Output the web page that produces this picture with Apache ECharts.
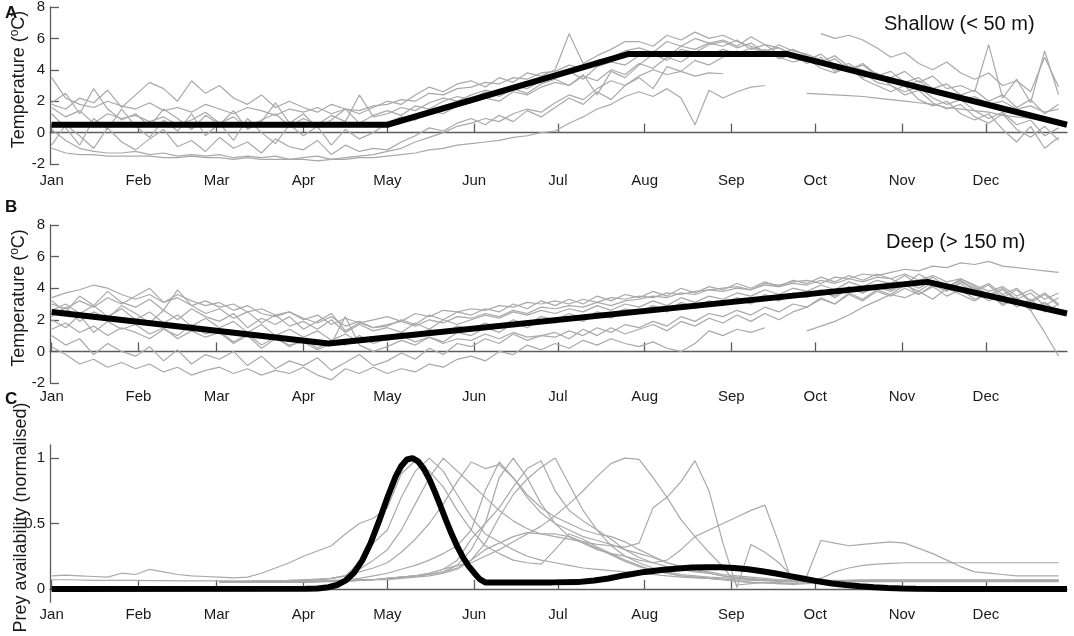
<!DOCTYPE html>
<html>
<head>
<meta charset="utf-8">
<script src="https://cdn.jsdelivr.net/npm/echarts@6/dist/echarts.min.js"></script>
<style>html,body{margin:0;padding:0;background:#fff}#c{width:1074px;height:636px}</style>
</head>
<body>
<div id="c"></div>
<script>
// ---------- axis labels ----------
const monthLabels = ['Jan','Feb','Mar','Apr','May','Jun','Jul','Aug','Sep','Oct','Nov','Dec'];
const monthStartDays = [1,32,60,91,121,152,182,213,244,274,305,335];
const tempTicks = [-2,0,2,4,6,8];
const preyTicks = [0,0.5,1];

// sample days (day of year) shared by grey series
const sampleDays = [1,6,11,16,21,26,31,36,41,46,51,56,61,66,71,76,81,86,91,96,101,106,111,116,121,126,131,136,141,146,151,156,161,166,171,176,181,186,191,196,201,206,211,216,221,226,231,236,241,246,251,256,261,266,271,276,281,286,291,296,301,306,311,316,321,326,331,336,341,346,351,356,361];

// ---------- Panel A: shallow (< 50 m) temperature records ----------
const shallow1 = [3.5,2.2,1.8,1.6,2.0,1.7, 1.5,1.9,1.4,1.6,1.3,1.8, 1.5,1.2,1.6,1.4,1.1,1.5, 1.3,1.6,1.2,1.5,1.4,1.7, 1.8,2.1,2.0,2.5,2.4,2.8, 2.9,3.2,3.1,3.5,3.4,3.8, 3.9,4.3,4.1,4.6,4.8,5.2, 5.4,5.1,5.8,5.5,6.0,5.7, 5.9,5.5,6.1,5.6,5.4,5.0, 4.8,4.5,4.9,4.2,4.0,3.6, 3.4,3.0,3.3,2.7,2.5,2.1, 2.3,1.8,2.0,1.5,1.7,1.3,1.5];
const shallow2 = [-1.0,-1.3,-1.4,-1.4,-1.5,-1.5, -1.5,-1.5,-1.6,-1.6,-1.5,-1.6, -1.6,-1.7,-1.6,-1.7,-1.7,-1.7, -1.7,-1.8,-1.7,-1.7,-1.6,-1.6, -1.5,-1.4,-1.3,-1.1,-1.0,-0.8, -0.7,-0.6,-0.5,-0.3,-0.2,0.0, 0.1,0.6,1.0,1.5,1.8,2.3, 2.6,2.3,2.8,2.2,0.5,2.7, 2.2,2.6,2.9,3.0, null,null,null,null,null,null,null,null,null,null,null,null,null,null,null,null,null,null,null,null,null];
const shallow3 = [0.2,-0.5,-1.0,-1.2,-1.3,-1.3, -1.2,-1.4,-1.3,-1.5,-1.4,-1.5, -1.4,-1.6,-1.5,-1.6,-1.5,-1.7, -1.6,-1.5,-1.7,-1.6,-1.5,-1.4, -1.2,-1.0,-0.6,-0.3,0.0,0.4, 0.6,0.9,0.7,1.2,1.5,1.3, 1.9,2.4,2.1,2.8,3.3,3.0, 3.6,4.0,3.7,3.9,3.6,3.8, 3.75, null,null,null,null,null,null,null,null,null,null,null,null,null,null,null,null,null,null,null,null,null,null,null,null];
const shallow4 = [1.2,0.3,-0.8,0.9,0.2,1.5, 0.4,-0.3,0.8,0.1,1.2,-0.2, 0.6,-0.5,0.9,0.0,-0.7,0.5, -0.2,0.4,-0.8,0.2,-0.4,0.0, 0.6,1.0,0.8,1.4,1.2,1.7, 1.9,2.2,2.0,2.6,2.4,2.9, 3.2,3.0,3.6,3.3,4.0,3.7, 4.4,4.1,4.8,4.5,5.1,4.9, 5.3,5.0,5.4,5.1,5.6,5.2, 5.0,4.6,4.1,4.4,3.8,3.2, 3.0,2.4,2.7,1.9,1.5,1.8, 1.0,0.6,1.2,0.2,-0.3,0.4,-0.5];
const shallow5 = [1.8,1.5,2.2,1.9,2.7,1.6, 2.4,3.2,2.8,2.0,3.3,2.5, 3.0,2.2,1.8,2.4,1.6,2.0, 1.6,1.3,1.8,1.5,1.2,1.6, 2.0,1.8,2.4,2.9,2.6,3.1, 3.3,2.9,3.5,3.2,3.8,3.6, 4.0,6.3,4.4,4.9,5.3,5.8, 5.8,5.5,6.2,5.9,6.4,6.0, 6.2,5.8,5.5,5.2,5.4,4.9, 4.6,5.0,4.3,4.0,4.4,3.7, 3.5,3.9,3.2,3.6,2.8,3.0, 2.6,5.6,2.2,3.4,1.9,5.2,2.4];
const shallow6 = [1.6,1.0,1.4,0.6,1.2,0.9, 1.1,0.7,1.0,0.5,0.8,1.3, 0.6,1.0,0.3,0.8,1.2,0.4, 0.9,0.5,1.1,0.7,2.4,1.0, 1.2,1.6,1.4,1.9,2.2,2.0, 2.4,2.7,2.5,3.0,2.8,3.3, 3.5,3.9,3.4,4.2,4.5,4.3, 4.9,5.2,4.8,5.5,5.3,5.7, 5.5,5.9,5.3,5.6,5.0,5.3, 4.9,4.4,4.7,4.0,4.3,3.6, 3.9,3.2,3.5,2.8,3.1,2.4, 2.7,2.0,2.4,1.6,2.1,1.2,1.8];
const shallow7 = [-0.8,0.5,-0.2,-1.0,0.3,-0.6, -1.1,-0.4,0.2,-0.9,-0.5,-1.2, -0.3,-1.0,-0.6,-1.3,-0.4,-0.9, -1.1,-0.5,-1.4,-0.8,-1.2,-1.0, -1.1,-0.6,-0.2,0.3,0.1,0.6, 0.9,0.5,1.1,0.7,1.4,1.0, 1.6,2.2,1.8,2.6,2.1,3.0, 3.5,2.8,4.2,3.9,4.6,4.3, 4.8,5.2,4.9,5.3,4.7,5.0, 4.4,4.8,3.9,4.2,3.5,3.8, 3.0,2.6,2.9,2.2,1.8,2.1, 1.4,0.9,1.3,0.5,0.8,-0.2,0.3];
const shallow8 = [1.9,2.5,1.2,2.8,1.5,0.8, 1.2,0.4,1.5,0.9,0.2,1.1, 0.5,1.4,0.2,0.7,1.9,0.6, 1.2,0.3,0.8,1.5,0.6,1.1, 1.4,1.1,1.7,1.5,2.0,2.3, 2.1,2.6,2.3,2.8,2.5,3.1, 3.4,3.0,3.7,2.4,3.9,3.5, 4.3,5.0,4.6,5.3,5.1,5.6, 5.8,5.4,5.7,5.1,4.8,4.5, 4.7,4.1,3.8,4.2,3.4,3.0, 2.6,3.0,2.1,1.7,2.0,1.2, 0.8,1.2,0.2,-0.6,0.4,-1.0,-0.3];
const shallow9 = [null,null,null,null,null,null,null,null,null,null,null,null,null,null,null,null,null,null,null,null,null,null,null,null,null,null,null,null,null,null,null,null,null,null,null,null,null,null,null,null,null,null,null,null,null,null,null,null,null,null,null,null,null,null, 2.5,2.45,2.4,2.35,2.3,2.2,2.1,2.0,1.9,1.8,1.6,1.5,1.4,1.3,1.1,1.0,0.9,0.8,0.7];
const shallow10 = [null,null,null,null,null,null,null,null,null,null,null,null,null,null,null,null,null,null,null,null,null,null,null,null,null,null,null,null,null,null,null,null,null,null,null,null,null,null,null,null,null,null,null,null,null,null,null,null,null,null,null,null,null,null,null, 6.3,6.0,6.2,5.9,5.4,4.8,5.1,4.4,4.0,4.5,3.8,3.4,3.8,3.0,3.3,2.6,4.8,2.9];
const shallowModelDays = [1,121,207,264,364];
const shallowModel = [0.5,0.5,5.0,5.0,0.5];

// ---------- Panel B: deep (> 150 m) temperature records ----------
const deep1 = [3.4,3.7,3.9,4.2,4.0,3.6, 3.3,3.6,3.1,3.4,2.9,3.2, 2.8,3.0,2.5,2.7,2.3,2.5, 2.1,1.8,2.2,1.6,1.9,1.5, 1.7,1.9,1.6,2.0,1.8,2.2, 2.1,2.4,2.2,2.6,2.4,2.8, 2.7,2.9,2.8,3.1,2.9,3.2, 3.3,3.5,3.4,3.7,3.6,3.9, 3.8,4.0,3.9,4.2,4.1,4.3, 4.2,4.5,4.3,4.6,4.4,4.7, 4.6,4.9,4.5,4.8,4.4,4.6, 4.2,3.8,4.1,3.5,3.9,3.3,3.7];
const deep2 = [3.0,2.7,3.2,2.8,3.4,3.0, 3.5,4.0,3.1,3.6,3.2,2.9, 3.1,2.6,2.9,2.4,2.2,2.5, 2.0,2.3,1.7,2.1,1.8,2.0, 2.2,1.9,2.4,2.2,2.6,2.5, 2.7,2.6,2.9,2.8,3.1,3.0, 3.2,3.0,3.3,3.1,3.4,3.3, 3.5,3.4,3.7,3.6,3.8,3.9, 4.0,4.1,3.9,4.3,4.2,4.4, 4.5,4.3,4.7,4.6,4.9,4.8, 5.0,5.2,5.1,5.4,5.3,5.6, 5.5,5.7,5.4,5.3,5.2,5.1,5.0];
const deep3 = [2.2,2.8,1.9,2.5,2.1,2.9, 2.4,1.8,2.6,2.0,2.7,2.2, 1.9,2.4,1.5,2.1,1.7,2.2, 1.4,1.9,2.4,1.3,1.8,1.5, 1.6,2.0,1.7,2.3,2.0,2.5, 2.3,2.7,2.5,3.0,2.7,3.2, 2.9,3.3,3.0,3.5,3.2,3.6, 3.4,3.8,3.5,4.0,3.7,4.1, 3.9,4.3,4.0,4.4,4.1,4.5, 4.3,4.7,4.4,4.8,4.5,4.9, 4.6,4.2,4.9,4.4,4.0,4.5, 3.8,4.2,3.4,3.9,3.1,3.6,2.9];
const deep4 = [1.4,1.8,1.2,1.6,1.0,1.5, 1.2,0.8,1.4,1.0,1.7,1.1, 1.3,0.6,1.1,0.4,0.9,0.3, 0.8,0.2,0.7,0.4,1.0,0.5, 0.8,1.2,0.9,1.4,1.1,1.6, 1.4,1.8,1.5,2.0,1.7,2.2, 2.0,2.4,2.1,2.5,2.3,2.7, 2.5,2.9,2.6,3.1,2.8,3.2, 3.0,3.4,3.1,3.6,3.3,3.7, 3.5,3.9,3.4,4.0,3.7,4.1, 3.8,4.3,3.6,4.1,3.5,3.9, 3.3,3.7,3.0,3.4,2.6,3.1,2.4];
const deep5 = [0.3,-0.2,-0.8,-0.5,-1.0,-0.7, -1.1,-0.8,-1.3,-1.0,-1.5,-1.2, -1.0,-1.4,-1.1,-1.5,-1.2,-1.4, -1.0,-1.5,-1.8,-1.1,-1.4,-1.0, -1.4,-1.1,-1.3,-0.8,-1.0,-0.5, -0.3,-0.6,0.0,-0.2,0.4,0.1, 0.5,0.2,0.7,0.4,0.8,0.5, 0.3,0.6,0.2,0.0,0.5,1.3, 1.0,1.4,1.2,1.5, null,null,null,null,null,null,null,null,null,null,null,null,null,null,null,null,null,null,null,null,null];
const deep6 = [1.0,0.4,0.8,-0.2,0.5,0.0, -0.3,0.3,-0.6,0.1,-0.8,-0.2, -0.5,0.0,-0.9,-0.3,-1.1,-0.6, -0.9,-0.4,-1.2,-0.7,-0.2,-0.9, -0.6,-0.1,-0.5,0.2,-0.2,0.5, 0.3,0.8,0.5,1.1,0.7,1.0, 0.9,1.3,1.0,1.5,1.2,1.7, 1.5,1.9,1.6,2.2,1.9,2.4, 2.2,2.6,2.3,2.8,2.5,3.0, 2.8,3.3,3.0,3.6,3.2,3.8, 3.5,4.0,3.6,4.2,3.8,4.4, 4.0,3.5,3.9,3.2,2.6,1.2,-0.3];
const deep7 = [null,null,null,null,null,null,null,null,null,null,null,null,null,null,null,null,null,null,null,null,null,null,null,null,null,null,null,null,null,null,null,null,null,null,null,null,null,null,null,null,null,null,null,null,null,null,null,null,null,null,null,null,null,null, 1.3,1.6,1.9,2.3,2.8,3.2,3.6,3.4,3.8,3.3,4.0,3.6,3.2,3.7,2.9,3.4,2.7,3.1,2.5];
const deep8 = [2.6,3.0,2.4,2.9,2.2,2.7, 2.0,2.5,1.8,2.3,1.6,2.1, 1.5,1.9,1.2,1.7,1.0,1.4, 0.9,1.3,0.7,1.1,0.6,0.9, 0.7,1.0,0.6,0.9,0.5,0.8, 0.7,1.1,0.8,1.2,0.9,1.0, 1.2,0.8,1.4,1.0,1.5,1.1, 1.4,1.7,1.3,1.9,1.6,2.1, 1.8,2.3,1.9,2.4,2.0,2.5, 2.8,3.4,3.0,3.7,3.3,3.9, 3.6,4.2,3.8,4.4,4.0,4.6, 4.1,3.6,4.0,3.3,3.7,2.9,3.4];
const deep9 = [3.2,2.5,3.5,2.9,3.8,3.1, 2.8,3.3,2.6,3.9,2.9,2.4, 2.7,2.1,2.5,1.8,2.3,1.6, 1.9,1.4,2.0,1.2,1.7,1.3, 1.5,1.2,1.8,1.4,2.0,1.7, 2.0,2.3,2.1,2.5,2.3,2.6, 2.4,2.7,2.5,2.9,2.6,3.0, 2.8,3.2,2.9,3.4,3.1,3.5, 3.3,3.7,3.5,3.9,3.6,4.0, 3.8,4.2,3.9,4.4,4.1,4.5, 4.3,4.8,4.2,4.7,4.1,4.5, 3.9,4.3,3.6,4.0,3.2,3.7,3.0];
const deep10 = [2.0,1.5,2.3,1.2,1.9,1.4, 1.7,1.1,1.5,0.8,1.3,0.9, 1.2,0.5,1.0,0.2,0.8,0.4, 0.6,0.1,0.5,2.2,0.4,0.0, 0.3,0.7,0.4,0.9,0.6,1.2, 1.0,1.5,1.2,1.8,1.5,2.0, 1.8,2.2,1.9,2.4,2.1,2.6, 2.4,2.8,2.5,3.0,2.7,3.1, 2.9,3.3,3.0,3.5,3.2,3.6, 3.4,3.8,3.5,4.1,3.7,4.2, 3.9,4.4,4.0,4.5,3.9,4.3, 3.7,3.2,3.6,2.8,3.3,2.5,3.0];
const deepModelDays = [1,100,314,364];
const deepModel = [2.5,0.5,4.4,2.4];

// ---------- Panel C: prey availability (normalised) ----------
const prey1 = [0.1,0.105,0.1,0.095,0.09,0.12, 0.11,0.15,0.13,0.11,0.1,0.095, 0.09,0.085,0.09,0.12,0.16,0.2, 0.25,0.29,0.33,0.42,0.5,0.54, 0.62,0.88,0.98,0.9,0.78,0.6, 0.45,0.33,0.27,0.22,0.2,0.19, 0.3,0.42,0.38,0.32,0.27,0.22, 0.18,0.14,0.12,0.1,0.09,0.08, 0.07,0.06,0.05,0.05,0.04,0.04, 0.05,0.08,0.13,0.16,0.18,0.19, 0.195,0.2,0.2,0.2,0.2,0.2, 0.2,0.2,0.2,0.2,0.2,0.2,0.2];
const prey2 = [0.07,0.07,0.068,0.066,0.065,0.065, 0.065,0.064,0.063,0.062,0.062,0.062, 0.062,0.062,0.062,0.063,0.064,0.065, 0.067,0.07,0.08,0.1,0.2,0.35, 0.45,0.7,0.9,1.0,0.9,0.72, 0.55,0.42,0.36,0.3,0.25,0.22, 0.2,0.18,0.16,0.15,0.14,0.13, 0.12,0.11,0.1,0.09,0.085,0.08, 0.075,0.07,0.065,0.065,0.06,0.06, 0.06,0.06,0.06,0.06,0.06,0.06, 0.06,0.06,0.06,0.06,0.06,0.06, 0.06,0.06,0.06,0.06,0.06,0.06,0.06];
const prey3 = [null,null,null,null,null,null,null,null,null,null,null,null, 0.05,0.05,0.055,0.06,0.06,0.065, 0.07,0.075,0.08,0.1,0.15,0.22, 0.3,0.45,0.65,0.85,1.0,0.9, 0.8,0.7,0.6,0.52,0.46,0.42, 0.42,0.4,0.36,0.31,0.26,0.21, 0.17,0.14,0.12,0.1,0.09,0.08, 0.07,0.06,0.05,0.045,0.04,0.035, 0.04,0.05,0.06,0.065,0.07,0.07, 0.07,0.07,0.07,0.07,0.07,0.07, 0.07,0.07,0.07,0.07,0.07,0.07,0.07];
const prey4 = [null,null,null,null,null,null,null,null,null,null,null,null, 0.05,0.05,0.05,0.055,0.06,0.06, 0.065,0.07,0.08,0.1,0.13,0.16, 0.2,0.28,0.38,0.5,0.65,0.82, 0.97,0.92,0.95,0.85,0.72,0.62, 0.55,0.5,0.45,0.42,0.4,0.36, 0.3,0.25,0.2,0.17,0.14,0.12, 0.1,0.09,0.08,0.07,0.06,0.055, 0.055,0.055,0.055,0.055,0.055,0.055, 0.055,0.055,0.055,0.055,0.055,0.055, 0.055,0.055,0.055,0.055,0.055,0.055,0.055];
const prey5 = [null,null,null,null,null,null,null,null,null,null,null,null, 0.05,0.05,0.05,0.05,0.055,0.055, 0.06,0.06,0.065,0.07,0.08,0.1, 0.12,0.15,0.18,0.22,0.27,0.33, 0.45,0.75,0.97,0.85,0.7,0.58, 0.5,0.45,0.4,0.37,0.34,0.3, 0.27,0.24,0.2,0.17,0.15,0.13, 0.11,0.1,0.09,0.08,0.07,0.07, 0.065,0.065,0.065,0.065,0.065,0.065, 0.065,0.065,0.065,0.065,0.065,0.065, 0.065,0.065,0.065,0.065,0.065,0.065,0.065];
const prey6 = [null,null,null,null,null,null,null,null,null,null,null,null, 0.05,0.05,0.05,0.05,0.05,0.055, 0.055,0.06,0.06,0.065,0.07,0.07, 0.08,0.09,0.1,0.12,0.15,0.22, 0.38,0.5,0.62,0.78,0.92,0.98, 0.75,0.6,0.52,0.45,0.38,0.3, 0.24,0.2,0.17,0.15,0.13,0.12, 0.1,0.08,0.07,0.065,0.06,0.06, 0.06,0.06,0.06,0.06,0.06,0.06, 0.06,0.06,0.06,0.06,0.06,0.06, 0.06,0.06,0.06,0.06,0.06,0.06,0.06];
const prey7 = [null,null,null,null,null,null,null,null,null,null,null,null, 0.05,0.05,0.05,0.05,0.05,0.05, 0.055,0.055,0.06,0.06,0.065,0.07, 0.08,0.09,0.1,0.11,0.13,0.16, 0.22,0.35,0.55,0.72,0.84,0.93, 1.0,0.8,0.6,0.45,0.33,0.25, 0.2,0.16,0.13,0.11,0.1,0.09, 0.085,0.08,0.075,0.07,0.065,0.06, 0.06,0.06,0.06,0.06,0.06,0.06, 0.06,0.06,0.06,0.06,0.06,0.06, 0.06,0.06,0.06,0.06,0.06,0.06,0.06];
const prey8 = [null,null,null,null,null,null,null,null,null,null,null,null, 0.05,0.05,0.05,0.05,0.05,0.05, 0.05,0.055,0.055,0.06,0.065,0.07, 0.08,0.09,0.1,0.12,0.15,0.18, 0.2,0.25,0.3,0.36,0.42,0.48, 0.56,0.65,0.75,0.86,0.96,1.0, 0.99,0.85,0.7,0.53,0.4,0.28, 0.17,0.03,0.04,0.05,0.05,0.055, 0.06,0.06,0.06,0.06,0.06,0.06, 0.06,0.06,0.06,0.06,0.06,0.06, 0.06,0.06,0.06,0.06,0.06,0.06,0.06];
const prey9 = [null,null,null,null,null,null,null,null,null,null,null,null, 0.05,0.05,0.05,0.05,0.05,0.05, 0.05,0.055,0.06,0.06,0.065,0.07, 0.07,0.08,0.09,0.1,0.12,0.15, 0.22,0.3,0.35,0.4,0.43,0.42, 0.4,0.38,0.36,0.34,0.33,0.32, 0.35,0.62,0.7,0.82,0.98,0.75, 0.35,0.01,0.34,0.28,0.2,0.09, 0.06,0.06,0.06,0.06,0.06,0.06, 0.06,0.06,0.06,0.06,0.06,0.06, 0.06,0.06,0.06,0.06,0.06,0.06,0.06];
const prey10 = [null,null,null,null,null,null,null,null,null,null,null,null, 0.05,0.05,0.05,0.05,0.05,0.05, 0.055,0.055,0.06,0.065,0.07,0.07, 0.08,0.09,0.1,0.11,0.13,0.18, 0.3,0.5,0.85,1.0,0.85,0.65, 0.5,0.4,0.35,0.3,0.27,0.25, 0.22,0.2,0.22,0.3,0.4,0.45, 0.5,0.55,0.6,0.64,0.35,0.03, 0.1,0.37,0.35,0.33,0.34,0.35, 0.36,0.35,0.31,0.27,0.22,0.17, 0.13,0.12,0.11,0.1,0.1,0.1,0.1];
const preyModelDays = [1,92,96,100,103,106,109,112,115,118,121,124,126,128,130,132,134,136,138,140,142,144,146,148,150,152,154,156,180,189,195,200,206,213,219,225,230,235,240,245,250,255,260,265,270,275,280,285,290,295,300,305,310,320,364];
const preyModel = [0,0.001,0.004,0.013,0.03,0.063,0.122,0.216,0.349,0.516,0.697,0.86,0.94,0.989,1.0,0.975,0.92,0.84,0.742,0.634,0.524,0.419,0.325,0.243,0.176,0.124,0.075,0.05,0.05,0.052,0.065,0.08,0.105,0.13,0.145,0.156,0.163,0.166,0.166,0.16,0.15,0.135,0.118,0.098,0.078,0.058,0.042,0.03,0.02,0.012,0.007,0.003,0.001,0,0];

// ---------- build chart ----------
const FONT = '"Liberation Sans", Arial, Helvetica, sans-serif';
const AXIS_COLOR = '#5c5c5c';
const TEXT_COLOR = '#1a1a1a';
const GREY = '#a9a9a9';

const grids = [
  {left: 50, right: 7, top: 7, height: 157, outerBoundsMode: 'none', containLabel: false},
  {left: 50, right: 7, top: 225, height: 158, outerBoundsMode: 'none', containLabel: false},
  {left: 50, right: 7, top: 445, height: 157, outerBoundsMode: 'none', containLabel: false}
];

function pairs(days, vals) {
  const out = [];
  for (let i = 0; i < days.length; i++) {
    if (vals[i] !== null && vals[i] !== undefined) out.push([days[i], vals[i]]);
  }
  return out;
}

function xAxisFor(gi, margin) {
  return {
    type: 'value', gridIndex: gi, min: 0.4, max: 364,
    axisLine: {show: true, lineStyle: {color: AXIS_COLOR, width: 1.3}},
    axisTick: {show: true, inside: true, length: 9, customValues: monthStartDays,
      lineStyle: {color: AXIS_COLOR, width: 1.3}},
    axisLabel: {show: true, customValues: monthStartDays, margin: margin, fontSize: 15,
      color: TEXT_COLOR, fontFamily: FONT,
      formatter: function (v) { return monthLabels[monthStartDays.indexOf(Math.round(v))]; }},
    splitLine: {show: false}
  };
}

function nameStyle() {
  return {
    fontSize: 18, color: TEXT_COLOR, fontFamily: FONT, padding: [0, 0, 0, 12],
    rich: {sup: {fontSize: 12, color: TEXT_COLOR, fontFamily: FONT, padding: [0, 0, 9, 0]}}
  };
}

function yAxisFor(gi, min, max, ticks, name) {
  return {
    type: 'value', gridIndex: gi, min: min, max: max,
    axisLine: {show: true, lineStyle: {color: AXIS_COLOR, width: 1.3}},
    axisTick: {show: true, inside: true, length: 9, customValues: ticks,
      lineStyle: {color: AXIS_COLOR, width: 1.3}},
    axisLabel: {show: true, customValues: ticks, margin: 5, fontSize: 15,
      color: TEXT_COLOR, fontFamily: FONT, formatter: function (v) { return String(v); }},
    splitLine: {show: false},
    name: name, nameLocation: 'middle', nameGap: 20, nameRotate: 90,
    nameMoveOverlap: false,
    nameTextStyle: nameStyle()
  };
}

const series = [];
function addGrey(list, gi) {
  list.forEach(function (vals) {
    series.push({
      type: 'line', xAxisIndex: gi, yAxisIndex: gi, data: pairs(sampleDays, vals),
      symbol: 'none', silent: true, z: 2,
      lineStyle: {color: GREY, width: 1.2}
    });
  });
}
function addModel(days, vals, gi) {
  series.push({
    type: 'line', xAxisIndex: gi, yAxisIndex: gi, data: pairs(days, vals),
    symbol: 'none', silent: true, z: 5,
    lineStyle: {color: '#000', width: 6}
  });
}

addGrey([shallow1, shallow2, shallow3, shallow4, shallow5, shallow6, shallow7, shallow8, shallow9, shallow10], 0);
addModel(shallowModelDays, shallowModel, 0);
addGrey([deep1, deep2, deep3, deep4, deep5, deep6, deep7, deep8, deep9, deep10], 1);
addModel(deepModelDays, deepModel, 1);
addGrey([prey1, prey2, prey3, prey4, prey5, prey6, prey7, prey8, prey9, prey10], 2);
addModel(preyModelDays, preyModel, 2);

const tempName = 'Temperature ({sup|o}C)';

const option = {
  animation: false,
  backgroundColor: '#fff',
  grid: grids,
  xAxis: [xAxisFor(0, 9), xAxisFor(1, 6), xAxisFor(2, 5)],
  yAxis: [
    yAxisFor(0, -2, 8, tempTicks, tempName),
    yAxisFor(1, -2, 8, tempTicks, tempName),
    yAxisFor(2, -0.1, 1.1, preyTicks, 'Prey availability (normalised)')
  ],
  series: series,
  graphic: [
    {type: 'text', x: 5, y: 13, style: {text: 'A', font: 'bold 17px ' + FONT, fill: '#111', verticalAlign: 'middle'}},
    {type: 'text', x: 5, y: 207, style: {text: 'B', font: 'bold 17px ' + FONT, fill: '#111', verticalAlign: 'middle'}},
    {type: 'text', x: 5, y: 399, style: {text: 'C', font: 'bold 17px ' + FONT, fill: '#111', verticalAlign: 'middle'}},
    {type: 'text', x: 884, y: 24, style: {text: 'Shallow (< 50 m)', font: '20px ' + FONT, fill: '#111', verticalAlign: 'middle'}},
    {type: 'text', x: 886, y: 242, style: {text: 'Deep (> 150 m)', font: '20px ' + FONT, fill: '#111', verticalAlign: 'middle'}}
  ]
};

const chart = echarts.init(document.getElementById('c'), null, {renderer: 'canvas'});
chart.setOption(option);
</script>
</body>
</html>
